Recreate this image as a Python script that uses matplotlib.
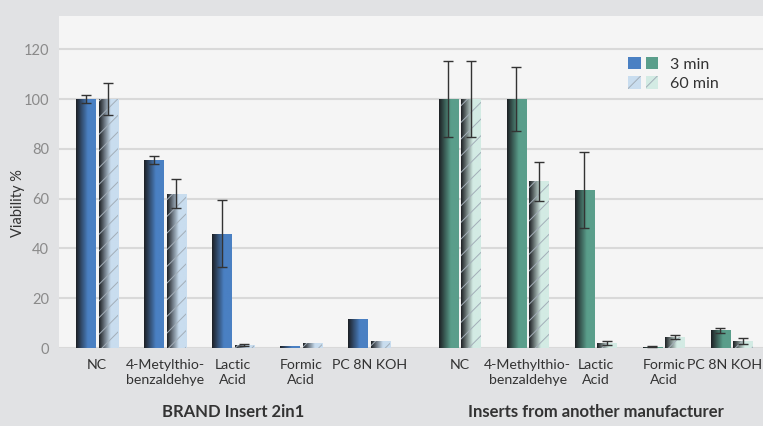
import numpy as np
import matplotlib
matplotlib.use('Agg')
import matplotlib.pyplot as plt
from matplotlib.colors import LinearSegmentedColormap
from matplotlib.patches import Patch
from matplotlib.legend_handler import HandlerTuple
from matplotlib.transforms import blended_transform_factory, ScaledTranslation

plt.rcParams['font.family'] = ['Lato', 'DejaVu Sans']
plt.rcParams['hatch.linewidth'] = 0.7

# --- data (Viability %) ---
categories_brand = ['NC', '4-Metylthio-\nbenzaldehye', 'Lactic\nAcid', 'Formic\nAcid', 'PC 8N KOH']
categories_other = ['NC', '4-Methylthio-\nbenzaldehye', 'Lactic\nAcid', 'Formic\nAcid', 'PC 8N KOH']
groups = ['BRAND Insert 2in1', 'Inserts from another manufacturer']

brand_3min = [100, 75.5, 46, 0.8, 11.7]
brand_3min_err = [1.5, 1.6, 13.5, 0, 0]
brand_60min = [100, 62, 1.2, 2.0, 2.8]
brand_60min_err = [6.5, 5.8, 0.5, 0, 0]

other_3min = [100, 100, 63.5, 0.6, 7.2]
other_3min_err = [15.4, 13, 15.3, 0.3, 1.0]
other_60min = [100, 67, 2.0, 4.4, 2.8]
other_60min_err = [15.4, 7.8, 0.7, 0.8, 1.2]

# --- style ---
BG = '#e1e2e4'
PANEL = '#f5f5f5'
BLUE, LBLUE = '#4a80c3', '#c9ddef'
GREEN, LGREEN = '#5a9e8b', '#d3ebe4'
HATCH = '#a3aeb8'
DARK = '#1d2024'
W, OFF = 0.285, 0.165

fig = plt.figure(figsize=(7.63, 4.26), dpi=100, facecolor=BG)
ax = fig.add_axes([59 / 763, 78 / 426, 1 - 59 / 763, (348 - 16) / 426])
ax.set_facecolor(PANEL)
for s in ax.spines.values():
    s.set_visible(False)

x_brand = np.arange(5)
x_other = np.arange(5) + 5.33

grad = np.linspace(0, 1, 64).reshape(1, -1)


def gradient_bars(x, vals, err, color, hatched):
    cmap = LinearSegmentedColormap.from_list(
        'g', [(0, DARK), (0.6, color), (1, color)])
    bars = ax.bar(x, vals, W, color=color, lw=0, zorder=2)
    for r in bars:
        bx, by = r.get_x(), r.get_y()
        im = ax.imshow(grad, extent=[bx, bx + r.get_width(), by, by + r.get_height()],
                       cmap=cmap, aspect='auto', zorder=2, interpolation='bilinear')
        im.set_clip_path(r)
    if hatched:
        ax.bar(x, vals, W, fill=False, hatch='//', edgecolor=HATCH, lw=0, zorder=3)
    e = np.array(err, dtype=float)
    m = e > 0
    ax.errorbar(np.asarray(x)[m], np.asarray(vals)[m], yerr=e[m], fmt='none',
                ecolor='#333333', elinewidth=1, capsize=3.5, capthick=1, zorder=4)


gradient_bars(x_brand - OFF, brand_3min, brand_3min_err, BLUE, False)
gradient_bars(x_brand + OFF, brand_60min, brand_60min_err, LBLUE, True)
gradient_bars(x_other - OFF, other_3min, other_3min_err, GREEN, False)
gradient_bars(x_other + OFF, other_60min, other_60min_err, LGREEN, True)

ax.set_xlim(-0.56, 9.79)
ax.set_ylim(0, 133.4)
ax.set_yticks(range(0, 121, 20))
ax.yaxis.grid(True, color='#d9d9d9', lw=1.5)
ax.set_axisbelow(True)
ax.tick_params(axis='y', length=0, pad=7, labelsize=10.5, labelcolor='#8a8a8a')
ax.set_xticks(np.concatenate([x_brand, x_other]))
labels = ax.set_xticklabels(categories_brand + categories_other, fontsize=10.2,
                            color='#333333', linespacing=1.3)
ax.tick_params(axis='x', length=0, pad=8)
# last label sits against the right edge, as in the original
labels[-1].set_transform(labels[-1].get_transform()
                         + ScaledTranslation(-0.07, 0, fig.dpi_scale_trans))

tr = blended_transform_factory(ax.transData, fig.transFigure)
ax.text(x_brand.mean(), 1 - 412 / 426, groups[0], transform=tr, ha='center',
        va='center', fontsize=12, fontweight='bold', color='#333333')
ax.text(x_other.mean(), 1 - 412 / 426, groups[1], transform=tr, ha='center',
        va='center', fontsize=12, fontweight='bold', color='#333333')

fig.text(18 / 763, 1 - 203 / 426, 'Viability %', rotation=90, ha='center',
         va='center', fontsize=10.5, color='#333333')

handles = [(Patch(fc=BLUE, lw=0), Patch(fc=GREEN, lw=0)),
           (Patch(fc=LBLUE, ec=HATCH, hatch='//', lw=0),
            Patch(fc=LGREEN, ec=HATCH, hatch='//', lw=0))]
ax.legend(handles, ['3 min', '60 min'], loc='upper left',
          bbox_to_anchor=(628 / 763, 1 - 57 / 426), bbox_transform=fig.transFigure,
          frameon=False, fontsize=11.5, borderpad=0, borderaxespad=0,
          handlelength=1.9, handleheight=0.8, handletextpad=0.75,
          labelspacing=0.3, labelcolor='#333333',
          handler_map={tuple: HandlerTuple(ndivide=None, pad=0.3)})

fig.savefig('out.png', dpi=100, facecolor=BG)
